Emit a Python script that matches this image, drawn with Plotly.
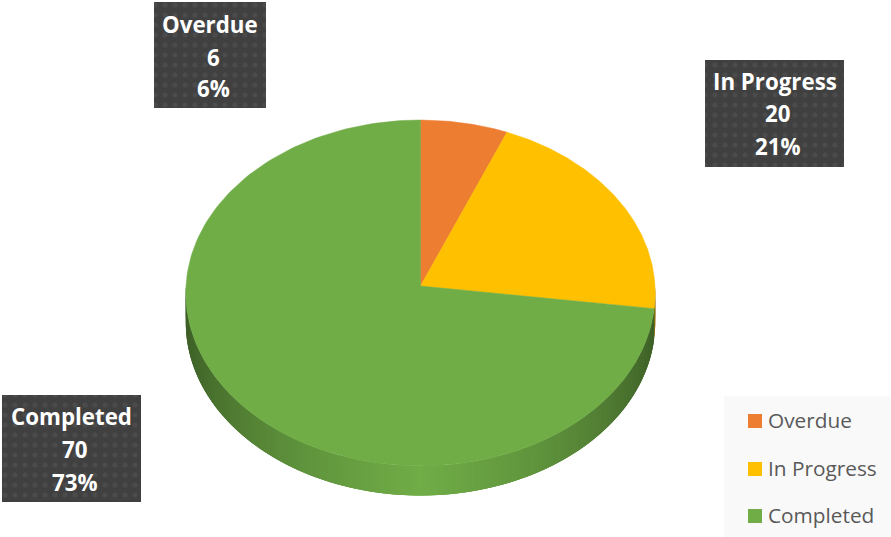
import numpy as np
import plotly.graph_objects as go

# Task status counts
categories = ["Overdue", "In Progress", "Completed"]
values = [6, 20, 70]
colors = ["#ED7D31", "#FFC000", "#70AD47"]

WIDTH, HEIGHT = 891, 537
TOTAL = sum(values)

# Projection of the tilted disc onto the page, in pixels
APEX_X, APEX_Y = 420.5, 286.0
RADIUS_X, RADIUS_Y = 234.5, 172.7
PERSPECTIVE = 0.0405
DEPTH = 29.5

BOX_COLOR = "#404040"
DOT_COLOR = "#4B4B4B"
LABEL_FONT = "Open Sans"

# Label boxes: left, top, right, bottom and the centres of the three text rows
label_boxes = {
    "Overdue": (154, 2, 266, 108, [25, 58, 89]),
    "In Progress": (705, 60, 844, 167, [82, 114, 147]),
    "Completed": (2, 395, 141, 502, [417, 450, 483]),
}
# Number and percent rows sit slightly right of the box centre
row_nudge = [0, 3, 3]
legend_rows = [421, 469, 516]


def project(theta):
    """Map clockwise angles from twelve o'clock to page coordinates."""
    u, v = np.sin(theta), np.cos(theta)
    w = 1 + PERSPECTIVE * v
    return APEX_X + RADIUS_X * u / w, APEX_Y - RADIUS_Y * v / w


def shade(hex_color, factor):
    r, g, b = (int(hex_color[i:i + 2], 16) for i in (1, 3, 5))
    return f"rgb({r * factor:.0f},{g * factor:.0f},{b * factor:.0f})"


fig = go.Figure()

edges = 2 * np.pi * np.concatenate([[0], np.cumsum(values)]) / TOTAL

# Rim of the disc: overlapping facets darkening towards the left and right ends
step = np.radians(0.75)
for i, color in enumerate(colors):
    lo = max(edges[i], np.pi / 2 - 0.02)
    hi = min(edges[i + 1], 3 * np.pi / 2 + 0.02)
    if hi <= lo:
        continue
    cuts = np.append(np.arange(lo, hi, step), hi)
    for a, b in zip(cuts[:-1], cuts[1:]):
        far = min(b + 2 * step, hi)
        xa, ya = project(np.linspace(a, far, 5))
        u = abs(np.sin((a + b) / 2))
        tone = shade(color, 1 - 0.3 * u - 0.15 * u ** 4)
        fig.add_trace(go.Scatter(
            x=np.concatenate([xa, xa[::-1]]),
            y=np.concatenate([ya, ya[::-1] + DEPTH]),
            mode="lines", fill="toself", fillcolor=tone,
            line=dict(width=0), hoverinfo="skip", showlegend=False,
        ))

# Top face slices
for i, (name, color) in enumerate(zip(categories, colors)):
    arc = np.linspace(edges[i], edges[i + 1], 180)
    xs, ys = project(arc)
    fig.add_trace(go.Scatter(
        x=np.concatenate([[APEX_X], xs, [APEX_X]]),
        y=np.concatenate([[APEX_Y], ys, [APEX_Y]]),
        mode="lines", fill="toself", fillcolor=color,
        line=dict(color=color, width=0.5), name=name,
        hoverinfo="name", showlegend=False,
    ))

# Dark stippled label plates
for name in categories:
    left, top, right, bottom, _ = label_boxes[name]
    fig.add_trace(go.Scatter(
        x=[left, right, right, left, left],
        y=[top, top, bottom, bottom, top],
        mode="lines", fill="toself", fillcolor=BOX_COLOR,
        fillpattern=dict(shape=".", bgcolor=BOX_COLOR, fgcolor=DOT_COLOR,
                         size=10, solidity=0.2, fillmode="replace"),
        line=dict(width=0), hoverinfo="skip", showlegend=False,
    ))

annotations = []
for name, value in zip(categories, values):
    left, _, right, _, rows = label_boxes[name]
    lines = [name, str(value), f"{round(100 * value / TOTAL)}%"]
    for text, y, nudge in zip(lines, rows, row_nudge):
        annotations.append(dict(
            x=(left + right) / 2 + nudge, y=y - 1, xref="x", yref="y",
            text=f"<b>{text}</b>", showarrow=False,
            xanchor="center", yanchor="middle",
            font=dict(family=LABEL_FONT, size=22.3, color="white"),
        ))

# Key in the lower right corner
fig.add_trace(go.Scatter(
    x=[755] * len(categories), y=legend_rows, mode="markers",
    marker=dict(symbol="square", size=14, color=colors, line=dict(width=0)),
    hoverinfo="skip", showlegend=False,
))
for name, y in zip(categories, legend_rows):
    annotations.append(dict(
        x=766, y=y - 1, xref="x", yref="y", text=name, showarrow=False,
        xanchor="left", yanchor="middle",
        font=dict(family=LABEL_FONT, size=20.8, color="#595959"),
    ))

fig.update_layout(
    width=WIDTH, height=HEIGHT, autosize=False,
    margin=dict(l=0, r=0, t=0, b=0),
    paper_bgcolor="white", plot_bgcolor="white", showlegend=False,
    xaxis=dict(range=[0, WIDTH], visible=False, fixedrange=True),
    yaxis=dict(range=[HEIGHT, 0], visible=False, fixedrange=True),
    annotations=annotations,
    shapes=[dict(type="rect", xref="x", yref="y", x0=724, x1=891, y0=396, y1=537,
                 fillcolor="#F9F9F9", line=dict(width=0), layer="below")],
)

fig.write_html("out.html", config=dict(displayModeBar=False))
